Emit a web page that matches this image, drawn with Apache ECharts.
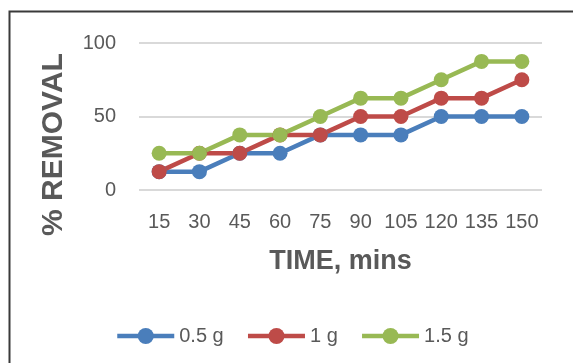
<!DOCTYPE html>
<html>
<head>
<meta charset="utf-8">
<style>html,body{margin:0;padding:0;background:#fff;}#c{width:573px;height:363px;}</style>
<script src="https://cdn.jsdelivr.net/npm/echarts@6/dist/echarts.min.js"></script>
</head>
<body>
<div id="c"></div>
<script>
var categories = ['15','30','45','60','75','90','105','120','135','150'];
var s05 = [12.5, 12.5, 25, 25, 37.5, 37.5, 37.5, 50, 50, 50];
var s1 = [12.5, 25, 25, 37.5, 37.5, 50, 50, 62.5, 62.5, 75];
var s15 = [25, 25, 37.5, 37.5, 50, 62.5, 62.5, 75, 87.5, 87.5];
var seriesNames = ['0.5 g', '1 g', '1.5 g'];
var yTitle = '% REMOVAL';
var xTitle = 'TIME, mins';
var colors = ['#4a7ebb', '#be4b48', '#98b954'];

var chart = echarts.init(document.getElementById('c'), null, {renderer: 'canvas'});
var font = '"Liberation Sans", Arial, sans-serif';
function mk(name, data, color) {
  return {
    name: name, type: 'line', data: data,
    symbol: 'circle', symbolSize: 15,
    itemStyle: {color: color},
    lineStyle: {color: color, width: 4.5},
    emphasis: {disabled: true},
    animation: false
  };
}
chart.setOption({
  animation: false,
  graphic: [{
    type: 'rect', left: 7, top: 9,
    shape: {x: 0, y: 0, width: 700, height: 500},
    style: {fill: 'none', stroke: '#3a3a3a', lineWidth: 2}
  }, {
    type: 'text', x: 54, y: 144.5, rotation: Math.PI / 2,
    style: {text: yTitle, fill: '#595959', font: 'bold 30px ' + font, align: 'center', verticalAlign: 'middle'}
  }],
  grid: {left: 139, right: 31, top: 43, bottom: 173},
  xAxis: {
    type: 'category', data: categories, boundaryGap: true,
    axisLine: {show: false}, axisTick: {show: false},
    axisLabel: {color: '#595959', fontSize: 20, fontFamily: font, margin: 22, interval: 0},
    name: xTitle, nameLocation: 'middle', nameGap: 58,
    nameTextStyle: {color: '#595959', fontSize: 27, fontWeight: 'bold', fontFamily: font}
  },
  yAxis: {
    type: 'value', min: 0, max: 100, interval: 50,
    axisLine: {show: false}, axisTick: {show: false},
    splitLine: {lineStyle: {color: '#d9d9d9', width: 2}},
    axisLabel: {color: '#595959', fontSize: 20, fontFamily: font, margin: 23}
  },
  legend: {
    bottom: 12, left: 110,
    itemWidth: 57, itemHeight: 20, itemGap: 22,
    lineStyle: {width: 4.5},
    textStyle: {color: '#595959', fontSize: 20, fontFamily: font},
    data: seriesNames
  },
  series: [mk(seriesNames[0], s05, colors[0]), mk(seriesNames[1], s1, colors[1]), mk(seriesNames[2], s15, colors[2])]
});
</script>
</body>
</html>
